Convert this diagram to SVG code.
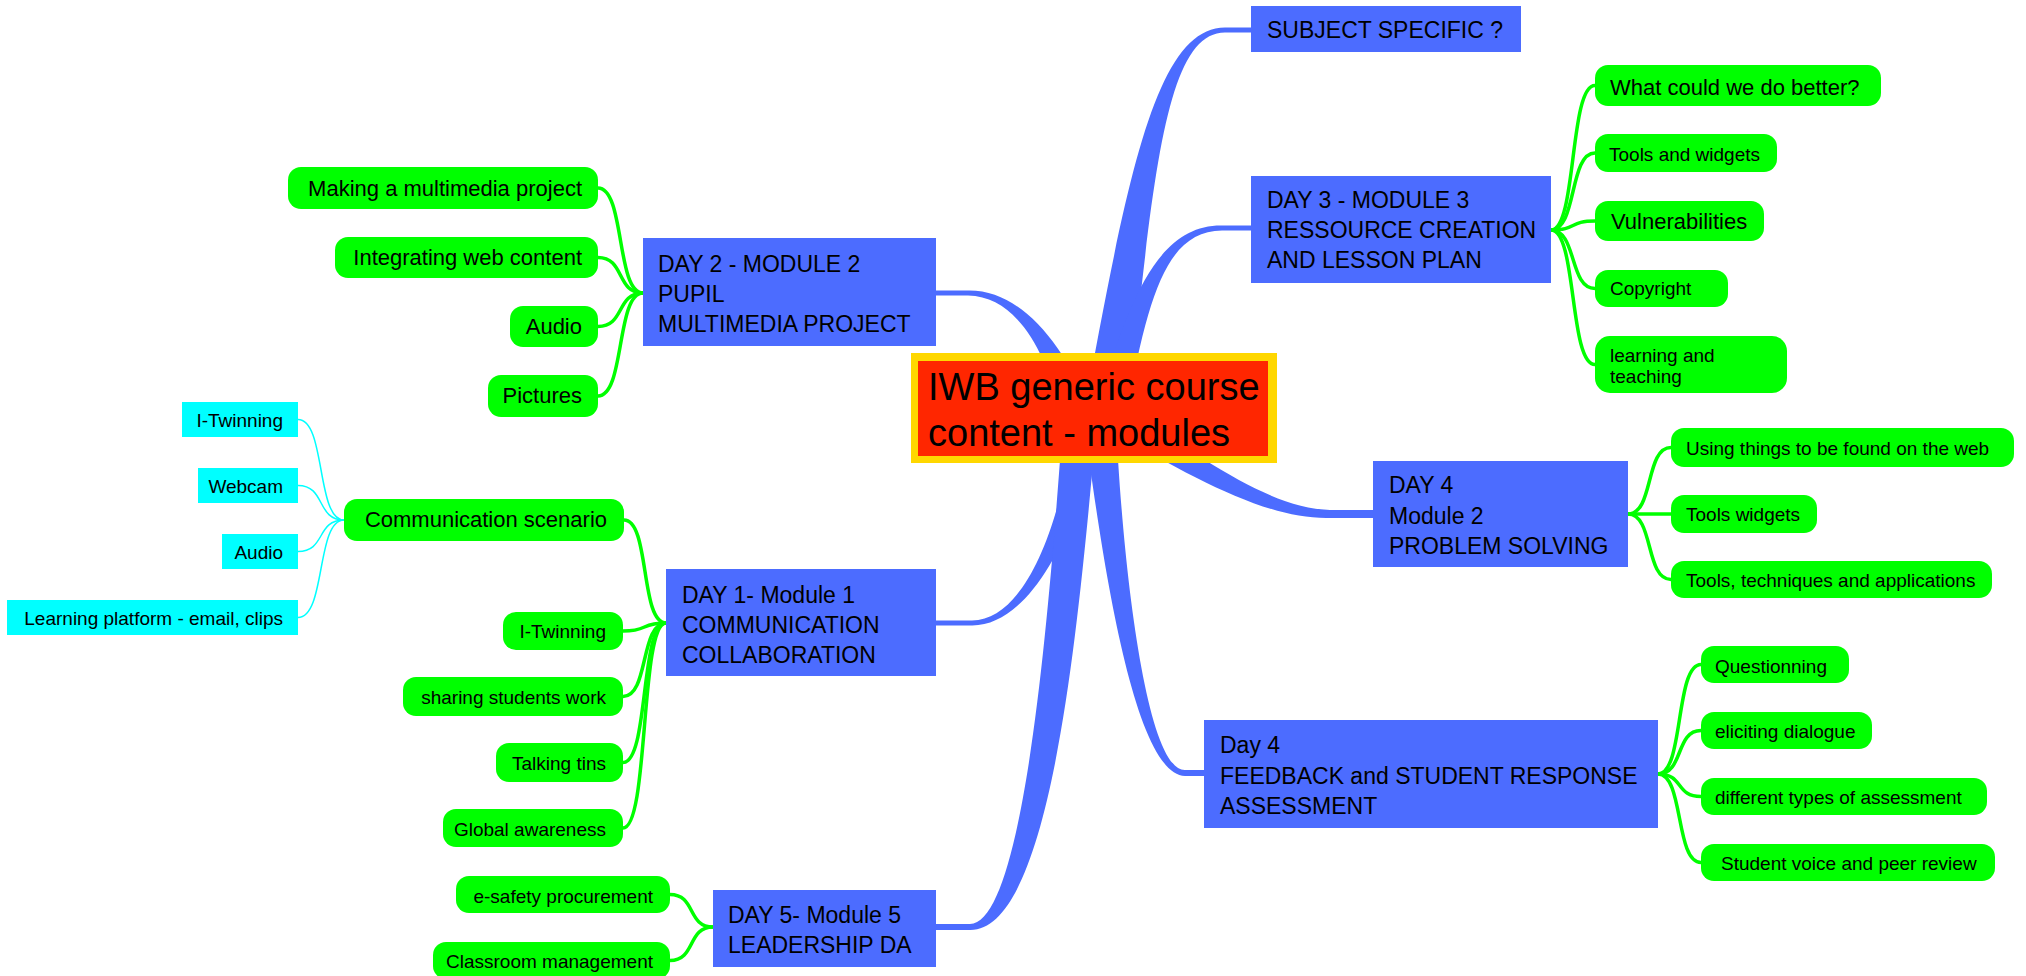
<svg xmlns="http://www.w3.org/2000/svg" width="2026" height="976" viewBox="0 0 2026 976">
<style>
text{font-family:"Liberation Sans",Arial,sans-serif;fill:#000}
.bx{fill:#4c6cff}
.bt{font-size:23px}
.gp{fill:#00ff00}
.cp{fill:#00ffff}
.s{font-size:19px}
.l{font-size:22px}
.e{text-anchor:end}
.cg{fill:none;stroke:#00ff00;stroke-width:3.5}
.cc{fill:none;stroke:#00ffff;stroke-width:1.5}
.br{fill:#4c6cff}
</style>
<rect width="2026" height="976" fill="#fff"/>
<g id="connectors">
<!-- blue tapered branches -->
<path class="br" d="M1083.2,416.8 C1127.1,178.2 1155.7,27.5 1225,27.5 L1252,27.5 L1252,32.5 L1225,32.5 C1164.4,32.5 1152.9,181.8 1126.8,423.2 Z"/>
<path class="br" d="M1097.4,406.6 C1131.4,287.5 1162.6,224.8 1222,225.5 L1252,225.5 L1252,230.5 L1222,230.5 C1167.4,231.2 1148.6,292.5 1126.6,413.4 Z"/>
<path class="br" d="M1060.8,414.7 C1047.1,354.4 1018,296.4 968,295.5 L935,295.5 L935,290.5 L968,290.5 C1022,289.6 1062.9,345.6 1089.2,405.3 Z"/>
<path class="br" d="M1101.8,422.2 C1080.7,522.5 1032.9,625.8 972,625.5 L935,625.5 L935,620.5 L972,620.5 C1027.1,620.2 1063.3,517.5 1074.2,417.8 Z"/>
<path class="br" d="M1096.9,421.4 C1080,601.2 1054.4,931.2 970,930 L935,930 L935,924 L970,924 C1025.6,922.8 1050,598.8 1063.1,418.6 Z"/>
<path class="br" d="M1127.4,408.1 C1205.3,461.5 1271.9,508.3 1330,510 L1374,510 L1374,518 L1330,518 C1268.1,519.7 1194.7,478.5 1112.6,431.9 Z"/>
<path class="br" d="M1115.9,418.6 C1121.9,558.9 1145.7,771.1 1185,770 L1205,770 L1205,776 L1185,776 C1134.3,774.9 1102.1,561.1 1084.1,421.4 Z"/>
<!-- green: DAY 2 -->
<path class="cg" d="M598,188 C625,188 616,293 643,293"/>
<path class="cg" d="M598,257.5 C625,257.5 616,293 643,293"/>
<path class="cg" d="M598,326.5 C625,326.5 616,293 643,293"/>
<path class="cg" d="M598,396 C625,396 616,293 643,293"/>
<!-- green: DAY 1 -->
<path class="cg" d="M624,520 C650,520 640,623 666,623"/>
<path class="cg" d="M623,631 C649,631 640,623 666,623"/>
<path class="cg" d="M623,696.5 C649,696.5 640,623 666,623"/>
<path class="cg" d="M623,762.5 C649,762.5 640,623 666,623"/>
<path class="cg" d="M623,828 C649,828 640,623 666,623"/>
<!-- cyan -->
<path class="cc" d="M298,419.5 C326,419.5 316,520 344,520"/>
<path class="cc" d="M298,485.5 C326,485.5 316,520 344,520"/>
<path class="cc" d="M298,551.5 C326,551.5 316,520 344,520"/>
<path class="cc" d="M298,617.5 C326,617.5 316,520 344,520"/>
<!-- green: DAY 5 -->
<path class="cg" d="M670,894.5 C696,894.5 687,927 713,927"/>
<path class="cg" d="M670,960.5 C696,960.5 687,927 713,927"/>
<!-- green: DAY 3 -->
<path class="cg" d="M1551,230 C1577,230 1569,85.5 1595,85.5"/>
<path class="cg" d="M1551,230 C1577,230 1569,153 1595,153"/>
<path class="cg" d="M1551,230 C1577,230 1569,221 1595,221"/>
<path class="cg" d="M1551,230 C1577,230 1569,288.5 1595,288.5"/>
<path class="cg" d="M1551,230 C1577,230 1569,364.5 1595,364.5"/>
<!-- green: DAY 4 -->
<path class="cg" d="M1628,514 C1654,514 1645,447.5 1671,447.5"/>
<path class="cg" d="M1628,514 L1671,514"/>
<path class="cg" d="M1628,514 C1654,514 1645,579.5 1671,579.5"/>
<!-- green: FEEDBACK -->
<path class="cg" d="M1658,774 C1684,774 1675,664.5 1701,664.5"/>
<path class="cg" d="M1658,774 C1684,774 1675,730.5 1701,730.5"/>
<path class="cg" d="M1658,774 C1684,774 1675,796.5 1701,796.5"/>
<path class="cg" d="M1658,774 C1684,774 1675,862.5 1701,862.5"/>
</g>

<g id="central">
<rect x="911" y="353" width="366" height="110" fill="#ffd700"/>
<rect x="918" y="361" width="350" height="95" fill="#ff2600"/>
<text x="928" y="400" font-size="38">IWB generic course</text>
<text x="928" y="446" font-size="38">content - modules</text>
</g>

<g id="subject">
<rect class="bx" x="1251" y="6" width="270" height="46"/>
<text class="bt" x="1267" y="38">SUBJECT SPECIFIC ?</text>
</g>
<g id="day3">
<rect class="bx" x="1251" y="176" width="300" height="107"/>
<text class="bt" x="1267" y="208">DAY 3 - MODULE 3</text>
<text class="bt" x="1267" y="238">RESSOURCE CREATION</text>
<text class="bt" x="1267" y="268">AND LESSON PLAN</text>
</g>
<g id="day2">
<rect class="bx" x="643" y="238" width="293" height="108"/>
<text class="bt" x="658" y="272">DAY 2 - MODULE 2</text>
<text class="bt" x="658" y="302">PUPIL</text>
<text class="bt" x="658" y="332">MULTIMEDIA PROJECT</text>
</g>
<g id="day1">
<rect class="bx" x="666" y="569" width="270" height="107"/>
<text class="bt" x="682" y="603">DAY 1- Module 1</text>
<text class="bt" x="682" y="633">COMMUNICATION</text>
<text class="bt" x="682" y="663">COLLABORATION</text>
</g>
<g id="day5">
<rect class="bx" x="713" y="890" width="223" height="77"/>
<text class="bt" x="728" y="923">DAY 5- Module 5</text>
<text class="bt" x="728" y="953">LEADERSHIP DA</text>
</g>
<g id="day4">
<rect class="bx" x="1373" y="461" width="255" height="106"/>
<text class="bt" x="1389" y="493">DAY 4</text>
<text class="bt" x="1389" y="524">Module 2</text>
<text class="bt" x="1389" y="554">PROBLEM SOLVING</text>
</g>
<g id="feedback">
<rect class="bx" x="1204" y="720" width="454" height="108"/>
<text class="bt" x="1220" y="753">Day 4</text>
<text class="bt" x="1220" y="784">FEEDBACK and STUDENT RESPONSE</text>
<text class="bt" x="1220" y="814">ASSESSMENT</text>
</g>

<g id="making"><rect class="gp" x="288" y="167" width="310" height="42" rx="13"/><text class="l e" x="582" y="196">Making a multimedia project</text></g>
<g id="integrating"><rect class="gp" x="335" y="237" width="263" height="41" rx="13"/><text class="l e" x="582" y="265">Integrating web content</text></g>
<g id="audio2"><rect class="gp" x="510" y="306" width="88" height="41" rx="13"/><text class="l e" x="582" y="334">Audio</text></g>
<g id="pictures"><rect class="gp" x="488" y="375" width="110" height="42" rx="13"/><text class="l e" x="582" y="403">Pictures</text></g>

<g id="comm"><rect class="gp" x="344" y="499" width="280" height="42" rx="13"/><text class="l e" x="607" y="527">Communication scenario</text></g>
<g id="c-itwinning"><rect class="cp" x="182" y="402" width="116" height="35"/><text class="s e" x="283" y="427">I-Twinning</text></g>
<g id="c-webcam"><rect class="cp" x="198" y="468" width="100" height="35"/><text class="s e" x="283" y="493">Webcam</text></g>
<g id="c-audio"><rect class="cp" x="222" y="534" width="76" height="35"/><text class="s e" x="283" y="559">Audio</text></g>
<g id="c-learning"><rect class="cp" x="7" y="600" width="291" height="35"/><text class="s e" x="283" y="625">Learning platform - email, clips</text></g>

<g id="g-itwinning"><rect class="gp" x="503" y="612" width="120" height="38" rx="13"/><text class="s e" x="606" y="638">I-Twinning</text></g>
<g id="sharing"><rect class="gp" x="403" y="677" width="220" height="39" rx="13"/><text class="s e" x="606" y="704">sharing students work</text></g>
<g id="talking"><rect class="gp" x="496" y="743" width="127" height="39" rx="13"/><text class="s e" x="606" y="770">Talking tins</text></g>
<g id="global"><rect class="gp" x="443" y="809" width="180" height="38" rx="13"/><text class="s e" x="606" y="836">Global awareness</text></g>

<g id="esafety"><rect class="gp" x="456" y="876" width="214" height="37" rx="13"/><text class="s e" x="653" y="903">e-safety procurement</text></g>
<g id="classroom"><rect class="gp" x="433" y="942" width="237" height="37" rx="13"/><text class="s e" x="653" y="968">Classroom management</text></g>

<g id="better"><rect class="gp" x="1595" y="65" width="286" height="41" rx="13"/><text class="l" x="1610" y="95">What could we do better?</text></g>
<g id="tools-widgets"><rect class="gp" x="1595" y="134" width="182" height="38" rx="13"/><text class="s" x="1609" y="161">Tools and widgets</text></g>
<g id="vulner"><rect class="gp" x="1595" y="201" width="169" height="40" rx="13"/><text class="l" x="1611" y="229">Vulnerabilities</text></g>
<g id="copyright"><rect class="gp" x="1595" y="270" width="133" height="37" rx="13"/><text class="s" x="1610" y="295">Copyright</text></g>
<g id="learning"><rect class="gp" x="1595" y="336" width="192" height="57" rx="15"/><text class="s" x="1610" y="362">learning and</text><text class="s" x="1610" y="383">teaching</text></g>

<g id="using"><rect class="gp" x="1671" y="428" width="343" height="39" rx="13"/><text class="s" x="1686" y="455">Using things to be found on the web</text></g>
<g id="toolsw"><rect class="gp" x="1671" y="495" width="146" height="38" rx="13"/><text class="s" x="1686" y="521">Tools widgets</text></g>
<g id="techniques"><rect class="gp" x="1671" y="561" width="321" height="37" rx="13"/><text class="s" x="1686" y="587">Tools, techniques and applications</text></g>

<g id="questionning"><rect class="gp" x="1701" y="646" width="148" height="37" rx="13"/><text class="s" x="1715" y="673">Questionning</text></g>
<g id="eliciting"><rect class="gp" x="1701" y="712" width="171" height="37" rx="13"/><text class="s" x="1715" y="738">eliciting dialogue</text></g>
<g id="types"><rect class="gp" x="1701" y="778" width="286" height="37" rx="13"/><text class="s" x="1715" y="804">different types of assessment</text></g>
<g id="voice"><rect class="gp" x="1701" y="844" width="294" height="37" rx="13"/><text class="s" x="1721" y="870">Student voice and peer review</text></g>
</svg>
